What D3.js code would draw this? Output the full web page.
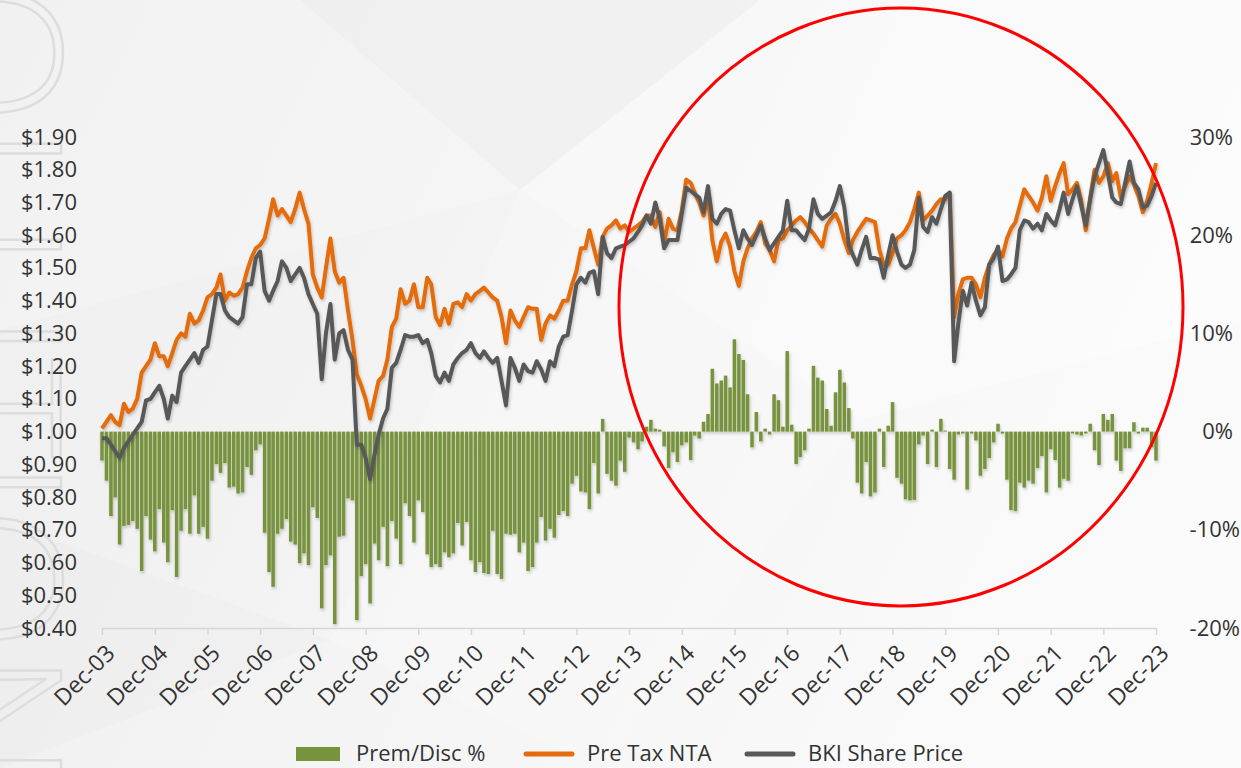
<!DOCTYPE html>
<html>
<head>
<meta charset="utf-8">
<title>BKI Share Price vs Pre Tax NTA</title>
<script src="https://cdn.jsdelivr.net/npm/d3@7"></script>
<style>
  body { margin: 0; background: #f2f2f2; }
  svg { display: block; font-family: "Open Sans", "Noto Sans", sans-serif; }
</style>
</head>
<body>
<script>

// x axis labels, one per December
var tickLabels = ["Dec-03","Dec-04","Dec-05","Dec-06","Dec-07","Dec-08","Dec-09","Dec-10","Dec-11",
  "Dec-12","Dec-13","Dec-14","Dec-15","Dec-16","Dec-17","Dec-18","Dec-19","Dec-20","Dec-21","Dec-22","Dec-23"];

// monthly premium / discount to pre tax NTA (%), Dec-03 .. Dec-23
var premDisc = [
  -2.95,-5.0,-8.6,-6.7,-11.5,-9.6,-9.5,-9.1,-9.9,-14.2,
  -8.6,-11.0,-12.2,-7.9,-11.3,-13.3,-8.0,-14.8,-10.1,-7.9,
  -10.4,-6.5,-10.4,-9.7,-10.9,-5.0,-3.3,-4.2,-3.2,-5.7,
  -5.6,-6.3,-6.2,-3.6,-4.4,-1.9,-1.3,-10.3,-14.3,-15.8,
  -10.4,-9.9,-8.9,-11.2,-11.5,-13.4,-12.4,-13.6,-7.7,-8.8,
  -18.0,-13.6,-12.6,-19.6,-10.7,-10.6,-6.8,-7.0,-19.2,-14.7,
  -13.5,-17.5,-11.4,-13.1,-9.7,-13.7,-9.1,-10.9,-13.5,-7.3,
  -8.6,-11.3,-7.0,-8.2,-12.5,-13.8,-13.5,-13.8,-12.3,-12.8,
  -12.4,-9.3,-11.6,-9.2,-13.1,-14.3,-13.3,-14.4,-14.5,-10.1,
  -14.5,-15.0,-10.4,-10.5,-10.4,-12.3,-11.3,-14.2,-13.8,-11.3,
  -8.7,-11.1,-9.9,-10.8,-8.5,-8.1,-8.6,-5.3,-4.5,-6.1,
  -6.2,-7.9,-3.2,-6.3,1.3,-4.3,-5.0,-5.5,-2.95,-4.1,
  -0.6,-1.1,-1.8,-1.0,0.5,1.2,0.3,0.2,-1.5,-3.7,
  -2.1,-3.1,-1.4,-1.1,-2.9,-0.4,-0.7,1.0,1.8,6.4,
  4.9,5.2,5.7,4.5,9.4,7.9,7.3,3.8,-1.6,2.0,
  -1.0,0.3,-0.3,3.8,3.2,0.5,8.2,0.7,-3.3,-2.6,
  -1.9,0.3,6.7,5.5,5.2,2.3,0.6,4.0,6.3,5.0,
  2.4,-0.7,-5.2,-6.3,-3.1,-6.6,-6.2,0.3,-3.6,0.6,
  3.0,-4.7,-5.3,-6.9,-7.0,-6.95,-1.3,-0.4,-3.3,0.2,
  -3.6,1.3,0.1,-3.8,-4.9,-0.3,-0.2,-5.9,-0.2,-0.9,
  -4.5,-3.8,-2.7,-1.1,0.8,-0.2,-4.9,-8.0,-8.1,-5.2,
  -5.7,-5.0,-5.3,-3.7,-2.5,-6.2,-1.8,-2.9,-5.7,-4.8,
  -5.0,-0.2,-0.3,-0.4,-0.2,0.8,-1.9,-3.4,1.8,1.2,
  1.8,-2.95,-4.0,-1.7,-1.7,0.95,-0.2,0.4,0.4,-1.6,
  -2.95
];

// monthly pre tax NTA ($)
var preTaxNTA = [
  1.01,1.03,1.05,1.03,1.02,1.085,1.06,1.07,1.10,1.18,
  1.20,1.22,1.27,1.23,1.23,1.20,1.24,1.28,1.30,1.29,
  1.36,1.33,1.34,1.37,1.41,1.42,1.44,1.48,1.40,1.425,
  1.415,1.42,1.44,1.49,1.53,1.56,1.57,1.59,1.65,1.71,
  1.66,1.68,1.66,1.64,1.68,1.73,1.68,1.635,1.48,1.44,
  1.41,1.50,1.59,1.49,1.455,1.47,1.37,1.28,1.175,1.14,
  1.10,1.04,1.10,1.155,1.17,1.22,1.32,1.345,1.435,1.39,
  1.40,1.45,1.38,1.38,1.47,1.45,1.35,1.325,1.375,1.33,
  1.39,1.395,1.38,1.42,1.40,1.42,1.43,1.44,1.425,1.41,
  1.40,1.35,1.27,1.37,1.34,1.32,1.35,1.38,1.375,1.375,
  1.28,1.33,1.355,1.345,1.37,1.40,1.40,1.45,1.49,1.56,
  1.56,1.615,1.56,1.51,1.595,1.62,1.63,1.645,1.62,1.63,
  1.61,1.62,1.63,1.64,1.66,1.66,1.625,1.67,1.575,1.65,
  1.62,1.615,1.675,1.77,1.76,1.73,1.70,1.66,1.72,1.585,
  1.52,1.58,1.605,1.565,1.49,1.445,1.52,1.56,1.59,1.61,
  1.64,1.575,1.555,1.52,1.585,1.59,1.615,1.63,1.645,1.655,
  1.64,1.62,1.605,1.585,1.565,1.63,1.65,1.665,1.635,1.585,
  1.545,1.585,1.61,1.63,1.65,1.645,1.64,1.555,1.51,1.51,
  1.545,1.59,1.60,1.615,1.64,1.68,1.73,1.645,1.66,1.675,
  1.695,1.71,1.71,1.73,1.35,1.42,1.465,1.47,1.47,1.45,
  1.41,1.47,1.51,1.54,1.555,1.535,1.59,1.62,1.64,1.69,
  1.74,1.72,1.70,1.675,1.715,1.78,1.705,1.75,1.79,1.82,
  1.725,1.74,1.76,1.705,1.615,1.715,1.80,1.76,1.78,1.82,
  1.765,1.79,1.715,1.75,1.78,1.755,1.72,1.67,1.705,1.76,
  1.82
];

// monthly BKI share price ($)
var sharePrice = [
  0.98,0.98,0.96,0.94,0.92,0.95,0.97,0.99,1.01,1.03,
  1.095,1.10,1.12,1.14,1.10,1.04,1.11,1.09,1.18,1.20,
  1.22,1.24,1.21,1.25,1.26,1.34,1.42,1.42,1.37,1.35,
  1.34,1.33,1.35,1.45,1.45,1.53,1.55,1.43,1.40,1.43,
  1.46,1.52,1.50,1.46,1.48,1.50,1.47,1.42,1.39,1.36,
  1.16,1.30,1.39,1.22,1.30,1.31,1.25,1.22,0.96,0.96,
  0.92,0.855,0.93,0.99,1.04,1.07,1.195,1.21,1.25,1.295,
  1.29,1.29,1.295,1.27,1.28,1.24,1.17,1.15,1.18,1.155,
  1.205,1.225,1.24,1.25,1.27,1.24,1.225,1.245,1.225,1.21,
  1.225,1.155,1.08,1.225,1.195,1.155,1.205,1.185,1.18,1.215,
  1.19,1.155,1.215,1.20,1.26,1.29,1.295,1.37,1.45,1.47,
  1.455,1.485,1.49,1.42,1.595,1.545,1.53,1.56,1.565,1.57,
  1.58,1.59,1.61,1.63,1.66,1.635,1.70,1.65,1.56,1.585,
  1.585,1.585,1.665,1.745,1.735,1.725,1.715,1.67,1.75,1.65,
  1.635,1.665,1.68,1.675,1.615,1.56,1.615,1.59,1.57,1.60,
  1.63,1.59,1.555,1.575,1.595,1.615,1.705,1.615,1.615,1.60,
  1.585,1.62,1.71,1.665,1.65,1.66,1.67,1.705,1.75,1.685,
  1.57,1.54,1.51,1.555,1.595,1.53,1.53,1.525,1.47,1.54,
  1.60,1.55,1.51,1.50,1.51,1.555,1.715,1.625,1.61,1.655,
  1.635,1.68,1.72,1.73,1.215,1.33,1.43,1.385,1.455,1.40,
  1.355,1.38,1.51,1.53,1.565,1.46,1.465,1.48,1.50,1.615,
  1.645,1.64,1.62,1.635,1.615,1.665,1.645,1.63,1.68,1.73,
  1.665,1.71,1.75,1.69,1.63,1.71,1.78,1.82,1.86,1.79,
  1.715,1.70,1.695,1.76,1.825,1.76,1.74,1.685,1.69,1.72,
  1.76
];

var priceTicks = [0.4,0.5,0.6,0.7,0.8,0.9,1.0,1.1,1.2,1.3,1.4,1.5,1.6,1.7,1.8,1.9];
var pctTicks = [-20,-10,0,10,20,30];
var seriesNames = ["Prem/Disc %", "Pre Tax NTA", "BKI Share Price"];

var width = 1241, height = 768;
var green = '#77933c', orange = '#e46c0a', grey = '#595959', textColor = '#333333';

var svg = d3.select('body').append('svg')
    .attr('width', width)
    .attr('height', height);

var defs = svg.append('defs');
var bg = defs.append('linearGradient').attr('id', 'bg')
    .attr('x1', 0).attr('y1', 0).attr('x2', 1).attr('y2', 0.3);
bg.append('stop').attr('offset', 0).attr('stop-color', '#eeeeee');
bg.append('stop').attr('offset', 0.5).attr('stop-color', '#f4f4f4');
bg.append('stop').attr('offset', 1).attr('stop-color', '#fafafa');

var shadow = defs.append('filter').attr('id', 'shadow')
    .attr('x', '-5%').attr('y', '-5%').attr('width', '110%').attr('height', '120%');
shadow.append('feDropShadow')
    .attr('dx', 1).attr('dy', 2).attr('stdDeviation', 1.5)
    .attr('flood-color', '#000').attr('flood-opacity', 0.22);

// background
svg.append('rect').attr('width', width).attr('height', height).attr('fill', 'url(#bg)');
var facets = [
  [[0,0],[300,0],[520,190],[0,330]],
  [[300,0],[760,0],[520,190]],
  [[520,190],[760,0],[1241,0],[1241,320],[860,420]],
  [[0,520],[330,640],[0,768]],
  [[520,190],[860,420],[600,768],[330,640]]
];
svg.append('g').selectAll('polygon')
  .data(facets)
  .enter().append('polygon')
    .attr('points', function(d){ return d.join(' '); })
    .attr('fill', function(d, i){ return ['#ffffff','#ececec','#ffffff','#e8e8e8','#ffffff'][i]; })
    .attr('opacity', function(d, i){ return [0.2, 0.3, 0.35, 0.25, 0.2][i]; });

// faint watermark lettering down the left edge (cut off, as in the original slide)
svg.append('text')
    .attr('transform', 'translate(-75,384) rotate(90)')
    .attr('text-anchor', 'middle')
    .attr('font-size', 190)
    .attr('font-weight', 300)
    .attr('fill', 'none')
    .attr('stroke', '#dddddd')
    .attr('stroke-width', 2.5)
    .text('SOLUTIONS');

// scales
var parseTick = d3.timeParse('%b-%y');
var start = parseTick(tickLabels[0]);
var months = premDisc.map(function(d, i){ return d3.timeMonth.offset(start, i); });

var x = d3.scaleTime()
    .domain([start, parseTick(tickLabels[tickLabels.length - 1])])
    .range([102, 1156]);
var yL = d3.scaleLinear().domain([0.4, 1.9]).range([628, 137]);
var yR = d3.scaleLinear().domain([-20, 30]).range([628, 137]);

// bars
var barW = 3.5;
svg.append('g')
    .attr('filter', 'url(#shadow)')
  .selectAll('rect')
  .data(premDisc)
  .enter().append('rect')
    .attr('x', function(d, i){ return x(months[i]) - barW / 2; })
    .attr('y', function(d){ return yR(Math.max(0, d)); })
    .attr('width', barW)
    .attr('height', function(d){ return Math.abs(yR(d) - yR(0)); })
    .attr('fill', green);

// x axis
var xAxis = d3.axisBottom(x)
    .tickValues(tickLabels.map(parseTick))
    .tickFormat(d3.timeFormat('%b-%y'))
    .tickSize(7)
    .tickSizeOuter(0);
var gx = svg.append('g')
    .attr('transform', 'translate(0,628)')
    .call(xAxis);
gx.select('.domain').attr('stroke', '#d6d6d6').attr('stroke-width', 1.5);
gx.selectAll('.tick line').attr('stroke', '#d6d6d6').attr('stroke-width', 1.5);
gx.selectAll('.tick text')
    .attr('x', 0).attr('y', 0).attr('dy', '0.35em')
    .attr('text-anchor', 'end')
    .attr('transform', 'translate(8,21) rotate(-45)')
    .attr('font-size', 23)
    .attr('font-family', '"Open Sans", sans-serif')
    .attr('fill', textColor);

// left axis
var gl = svg.append('g')
    .attr('transform', 'translate(77,0)')
    .call(d3.axisLeft(yL).tickValues(priceTicks).tickFormat(d3.format('$.2f')).tickSize(0).tickPadding(0));
gl.select('.domain').remove();
gl.selectAll('.tick text')
    .attr('font-size', 22)
    .attr('font-family', '"Open Sans", sans-serif')
    .attr('fill', textColor);

// right axis
var gr = svg.append('g')
    .call(d3.axisRight(yR).tickValues(pctTicks).tickFormat(function(d){ return d + '%'; }).tickSize(0));
gr.select('.domain').remove();
gr.selectAll('.tick text')
    .attr('text-anchor', 'end')
    .attr('x', function(d){ return d < 0 ? 1240 : 1233; })
    .attr('font-size', 22)
    .attr('font-family', '"Open Sans", sans-serif')
    .attr('fill', textColor);

// lines
var line = d3.line()
    .x(function(d, i){ return x(months[i]); })
    .y(function(d){ return yL(d); });

svg.append('path')
    .datum(preTaxNTA)
    .attr('d', line)
    .attr('fill', 'none')
    .attr('stroke', orange)
    .attr('stroke-width', 4)
    .attr('stroke-linejoin', 'round')
    .attr('filter', 'url(#shadow)');

svg.append('path')
    .datum(sharePrice)
    .attr('d', line)
    .attr('fill', 'none')
    .attr('stroke', grey)
    .attr('stroke-width', 4)
    .attr('stroke-linejoin', 'round')
    .attr('filter', 'url(#shadow)');

// highlight circle
svg.append('ellipse')
    .attr('cx', 901).attr('cy', 307)
    .attr('rx', 282).attr('ry', 299)
    .attr('fill', 'none')
    .attr('stroke', '#ff0000')
    .attr('stroke-width', 3);

// legend
var legend = svg.append('g').attr('transform', 'translate(0,753)');
var legendX = [296, 526, 747];
var legendItem = legend.selectAll('g')
  .data(seriesNames)
  .enter().append('g')
    .attr('transform', function(d, i){ return 'translate(' + legendX[i] + ',0)'; });
legendItem.each(function(d, i){
  var g = d3.select(this);
  if (i === 0) {
    g.append('rect').attr('x', 0).attr('y', -6).attr('width', 44).attr('height', 14).attr('fill', green);
  } else {
    g.append('line').attr('x1', 0).attr('x2', 46).attr('y1', 1).attr('y2', 1)
      .attr('stroke', i === 1 ? orange : grey).attr('stroke-width', 5).attr('stroke-linecap', 'round');
  }
  g.append('text')
    .attr('x', i === 0 ? 60 : 61)
    .attr('dy', '0.35em')
    .attr('font-size', 22)
    .attr('fill', textColor)
    .text(d);
});

</script>
</body>
</html>
